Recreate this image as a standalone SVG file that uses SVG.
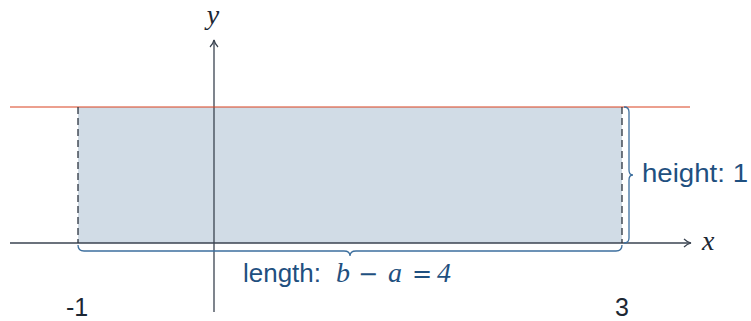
<svg xmlns="http://www.w3.org/2000/svg" width="751" height="321" viewBox="0 0 751 321">
<defs>
<style>
.axis{stroke:#3a4350;stroke-width:1.3;fill:none}
.dash{stroke:#2b3440;stroke-width:1.3;stroke-dasharray:7,4;fill:none}
.brace{stroke:#3d6f9e;stroke-width:1.3;fill:none}
.lbl{font-family:"Liberation Sans","DejaVu Sans",sans-serif;font-size:26px;fill:#1f5080}
.tick{font-family:"Liberation Sans","DejaVu Sans",sans-serif;font-size:25px;fill:#1c2733}
.math{font-family:"Liberation Serif","DejaVu Serif",serif;font-style:italic;font-size:28px}
.op{font-family:"DejaVu Sans","Liberation Sans",sans-serif;font-size:24px}
</style>
<marker id="arr" viewBox="0 0 10 10" refX="9" refY="5" markerWidth="10" markerHeight="10" markerUnits="userSpaceOnUse" orient="auto">
<path d="M2,1 Q5,4 9,5 Q5,6 2,9" fill="none" stroke="#3a4350" stroke-width="1.2"/>
</marker>
</defs>
<g id="region">
<rect x="78" y="107" width="544" height="136" fill="#d1dce6"/>
</g>
<g id="connectors">
<line class="axis" x1="10" y1="243" x2="691" y2="243" marker-end="url(#arr)"/>
<line class="axis" x1="214" y1="312" x2="214" y2="40" marker-end="url(#arr)"/>
<line x1="10" y1="107" x2="690" y2="107" stroke="#d9411e" stroke-width="1"/>
<line class="dash" x1="78" y1="107" x2="78" y2="243"/>
<line class="dash" x1="622" y1="107" x2="622" y2="243"/>
</g>
<g id="height-brace">
<path class="brace" d="M624,107 Q629,107 629,112 L629,170 Q629,175 633,175 Q629,175 629,180 L629,238 Q629,243 624,243"/>
<text class="lbl" x="642" y="182" textLength="106" lengthAdjust="spacingAndGlyphs">height: 1</text>
</g>
<g id="length-brace">
<path class="brace" d="M78,245 Q78,251 84,251 L344,251 Q350,251 350,256 Q350,251 356,251 L616,251 Q622,251 622,245"/>
<text class="lbl" x="243" y="282" textLength="78" lengthAdjust="spacingAndGlyphs">length:</text>
<text class="math" x="336" y="282" fill="#1f5080">b</text>
<text class="op" x="368" y="282" fill="#1f5080" text-anchor="middle">−</text>
<text class="math" x="388" y="282" fill="#1f5080">a</text>
<text class="op" x="422" y="282" fill="#1f5080" text-anchor="middle">=</text>
<text class="math" x="437" y="282" fill="#1f5080">4</text>
</g>
<g id="labels">
<text class="math" x="213" y="24" text-anchor="middle" fill="#1c2733" font-size="24">y</text>
<text class="math" x="702" y="250" fill="#1c2733">x</text>
<text class="tick" x="77" y="316" text-anchor="middle">-1</text>
<text class="tick" x="622" y="316" text-anchor="middle">3</text>
</g>
</svg>
